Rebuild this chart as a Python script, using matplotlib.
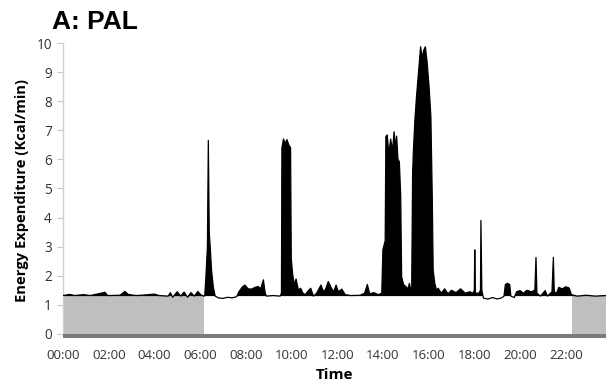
import matplotlib
matplotlib.use("Agg")
import matplotlib.pyplot as plt
import numpy as np

# time of day in hours, energy expenditure (kcal/min)
hours = [0.0, 0.3, 0.5, 0.9, 1.2, 1.84, 1.95, 2.5, 2.71, 2.85, 3.2, 3.6, 4.0, 4.2,
         4.6, 4.7, 4.8, 5.0, 5.15, 5.3, 5.45, 5.6, 5.75, 5.9, 6.05, 6.2,
         6.25, 6.32, 6.36, 6.40, 6.45, 6.5, 6.58, 6.66, 6.8, 7.0, 7.2, 7.4, 7.6,
         7.7, 7.85, 7.96, 8.1, 8.25, 8.4, 8.54, 8.65, 8.77, 8.85, 8.9, 9.2, 9.5,
         9.56, 9.58, 9.65, 9.72, 9.8, 9.88, 9.96, 9.99, 10.05, 10.12, 10.2, 10.3,
         10.4, 10.5, 10.6, 10.7, 10.84, 10.96, 11.1, 11.29, 11.4, 11.5, 11.61,
         11.75, 11.85, 11.95, 12.05, 12.2, 12.35, 12.6, 13.0, 13.2, 13.32, 13.42,
         13.6, 13.8, 13.95,
         14.0, 14.1, 14.13, 14.19, 14.26, 14.34, 14.42, 14.49, 14.55, 14.6, 14.66,
         14.72, 14.78, 14.82, 14.9, 15.0, 15.1, 15.16, 15.22,
         15.26, 15.3, 15.33, 15.4, 15.47, 15.59, 15.65, 15.72, 15.79, 15.86, 15.94,
         16.02, 16.1, 16.16, 16.2, 16.27, 16.35, 16.42, 16.55, 16.7, 16.85, 17.0,
         17.2, 17.4, 17.6, 17.8, 17.95, 18.0, 18.02, 18.05, 18.2, 18.27, 18.29,
         18.33, 18.4, 18.6, 18.8, 19.0, 19.2, 19.3, 19.36, 19.45, 19.55, 19.6,
         19.75, 19.85, 20.0, 20.15, 20.3, 20.5, 20.65, 20.7, 20.74, 20.9, 21.1,
         21.2, 21.4, 21.46, 21.5, 21.6, 21.7, 21.85, 22.0, 22.15, 22.25, 22.5,
         22.9, 23.3, 23.76]
energy = [1.32, 1.36, 1.32, 1.35, 1.32, 1.43, 1.32, 1.33, 1.46, 1.36, 1.32, 1.34, 1.37, 1.32,
          1.30, 1.42, 1.26, 1.45, 1.30, 1.44, 1.26, 1.42, 1.30, 1.46, 1.33, 1.30,
          1.9, 3.0, 6.65, 3.5, 2.9, 2.2, 1.6, 1.3, 1.24, 1.22, 1.26, 1.24, 1.28,
          1.45, 1.62, 1.68, 1.55, 1.54, 1.6, 1.63, 1.55, 1.86, 1.4, 1.3, 1.32, 1.3,
          1.4, 6.4, 6.7, 6.55, 6.68, 6.5, 6.4, 2.6, 2.05, 1.7, 1.89, 1.51,
          1.57, 1.4, 1.35, 1.45, 1.57, 1.3, 1.4, 1.68, 1.45, 1.55, 1.8,
          1.57, 1.45, 1.68, 1.45, 1.54, 1.35, 1.32, 1.33, 1.4, 1.7, 1.38,
          1.42, 1.35, 1.4,
          2.9, 3.2, 6.78, 6.84, 6.2, 6.7, 6.3, 6.95, 6.4, 6.8, 6.0,
          5.92, 4.72, 1.97, 1.7, 1.63, 1.55, 1.74, 1.5,
          1.6, 5.5, 6.22, 7.35, 8.15, 9.3, 9.87, 9.5, 9.76, 9.87, 9.3,
          8.5, 7.47, 4.72, 2.2, 1.74, 1.5, 1.57, 1.4, 1.55, 1.38, 1.5,
          1.42, 1.55, 1.4, 1.45, 1.4, 1.5, 2.89, 1.4, 1.4, 1.5, 3.9,
          1.5, 1.23, 1.2, 1.25, 1.2, 1.24, 1.3, 1.7, 1.74, 1.7, 1.3,
          1.25, 1.45, 1.49, 1.4, 1.5, 1.45, 1.5, 2.63, 1.4, 1.3, 1.49,
          1.3, 1.45, 2.63, 1.45, 1.4, 1.6, 1.55, 1.62, 1.58, 1.35, 1.3,
          1.33, 1.3, 1.32]

sleep_periods = [(0.0, 6.17), (22.26, 24.0)]
sleep_level = 1.3
tick_hours = list(range(0, 24, 2))
tick_labels = [f"{h:02d}:00" for h in tick_hours]

fig = plt.figure(figsize=(6.06, 3.88), dpi=100)
ax = fig.add_axes([63 / 606, 1 - 338 / 388, 1 - 63 / 606, (338 - 43) / 388])

t = np.array(hours)
e = np.array(energy)

# sleep shading
for s0, s1 in sleep_periods:
    ax.fill_between([s0, s1], 0, sleep_level, color="#bfbfbf", lw=0, zorder=1)

# activity fill
ax.fill_between(t, sleep_level, e, where=e >= sleep_level, interpolate=True,
                color="black", lw=0, zorder=2)
ax.plot(t, e, color="black", lw=0.9, zorder=3)

# dark bottom band
ax.fill_between([0, 24], -0.14, 0, color="#7a7a7a", lw=0, zorder=4)

ax.set_xlim(0, (606 - 63) / 22.85)
ax.set_ylim(-0.14, 10)
ax.set_yticks(range(0, 11))
ax.set_xticks(tick_hours)
ax.set_xticklabels(tick_labels)

for s in ["top", "right", "bottom"]:
    ax.spines[s].set_visible(False)
ax.spines["left"].set_color("#d0d0d0")
ax.spines["left"].set_linewidth(1.0)
ax.spines["left"].set_bounds(0, 10)

ax.tick_params(axis="y", length=4, color="#c8c8c8", labelsize=9.8,
               labelcolor="#333333", pad=4)
ax.tick_params(axis="x", length=0, labelsize=9.5, labelcolor="#333333", pad=8)
for lab in ax.get_xticklabels() + ax.get_yticklabels():
    lab.set_fontfamily("Open Sans")

ax.set_ylabel("Energy Expenditure (Kcal/min)", fontfamily="Open Sans",
              fontweight="bold", fontsize=10.6, color="black", labelpad=5)
ax.set_xlabel("Time", fontfamily="Open Sans", fontweight="bold", fontsize=11,
              color="black", labelpad=4)

fig.text(52 / 606, 1 - 29 / 388, "A: PAL", fontfamily="Liberation Sans",
         fontweight="bold", fontsize=19, ha="left", va="baseline")

fig.savefig("out.png", dpi=100)
